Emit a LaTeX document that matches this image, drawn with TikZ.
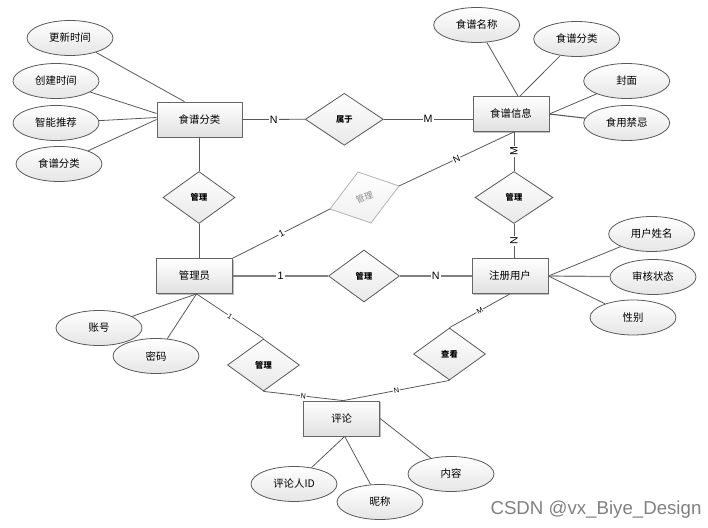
\documentclass[tikz,border=0pt]{standalone}
\usepackage{fontspec}
\newfontfamily\cjk{Noto Sans CJK SC}
\newfontfamily\lab{Liberation Sans}
\usetikzlibrary{shapes.geometric,calc,shadows}
\tikzset{
  ent/.style={rectangle, draw=black!60, line width=0.6pt, top color=white, bottom color=black!12,
    minimum width=57pt, minimum height=26.25pt, inner sep=0pt,
    drop shadow={shadow xshift=0.9pt, shadow yshift=-0.9pt, opacity=0.25, fill=black},
    font=\cjk\fontsize{7.8}{9}\selectfont},
  attr/.style={ellipse, draw=black!65, line width=0.6pt, top color=white, bottom color=black!10,
    minimum width=64.5pt, minimum height=26.25pt, inner sep=0pt,
    font=\cjk\fontsize{7.8}{9}\selectfont},
  rel/.style={diamond, draw=black!65, line width=0.6pt, top color=white, bottom color=black!9,
    minimum width=54pt, minimum height=39pt, inner sep=0pt,
    font=\cjk\fontsize{6.2}{7}\selectfont\bfseries},
  conn/.style={draw=black!65, line width=0.6pt},
  lbl/.style={fill=white, inner sep=0.8pt, font=\lab\fontsize{8}{9}\selectfont},
  lblm/.style={fill=white, inner sep=0.6pt, font=\lab\fontsize{7}{8}\selectfont},
  lbls/.style={fill=white, inner sep=0.5pt, font=\lab\fontsize{5.5}{6}\selectfont},
}
\begin{document}
\begin{tikzpicture}[x=0.75pt,y=-0.75pt]
\useasboundingbox (0,0) rectangle (708,528);

% entities
\node[ent, minimum width=63.75pt] (fl) at (199.5,119.5) {食谱分类};
\node[ent] (xx) at (511,114) {食谱信息};
\node[ent] (gly) at (194.5,276) {管理员};
\node[ent] (yh) at (510,276) {注册用户};
\node[ent] (pl) at (341.7,418.5) {评论};

% attributes
\node[attr] (a1) at (70,38) {更新时间};
\node[attr] (a2) at (56,81) {创建时间};
\node[attr] (a3) at (56,123) {智能推荐};
\node[attr] (a4) at (59,164) {食谱分类};
\node[attr] (b1) at (476.7,25) {食谱名称};
\node[attr] (b2) at (576.7,39) {食谱分类};
\node[attr] (b3) at (626.7,81) {封面};
\node[attr] (b4) at (626.7,123) {食用禁忌};
\node[attr] (c1) at (651.7,234) {用户姓名};
\node[attr] (c2) at (653,277) {审核状态};
\node[attr] (c3) at (633,317.5) {性别};
\node[attr] (d1) at (99,328) {账号};
\node[attr] (d2) at (156,356) {密码};
\node[attr] (e1) at (294,484) {评论人ID};
\node[attr] (e2) at (380,502) {昵称};
\node[attr] (e3) at (451,474) {内容};

% relations
\node[rel, minimum width=58.5pt] (r1) at (344.3,119.3) {属于};
\node[rel] (r2) at (199,197.5) {管理};
\node[rel, minimum width=58.5pt] (r3) at (514,197.5) {管理};
\node[rel, minimum width=53.25pt] (r4) at (364,276) {管理};
\node[rel] (r5) at (263.5,365) {管理};
\node[rel] (r6) at (449.5,354) {查看};

% grey tilted relation
\coordinate (g1) at (330,209);
\coordinate (g2) at (358,172);
\coordinate (g3) at (399,186);
\coordinate (g4) at (371,223);
\draw[draw=black!30, line width=0.6pt, top color=white, bottom color=black!6] (g1) -- (g2) -- (g3) -- (g4) -- cycle;
\node[font=\cjk\fontsize{6.5}{7}\selectfont, text=black!45, rotate=20, inner sep=0pt] (gt) at (364.5,197.5) {管理};

% attribute connectors
\draw[conn] (a1) -- ($(fl.north)+(-15,0)$);
\draw[conn] (a2) -- ($(fl.west)+(0,-6)$);
\draw[conn] (a3) -- ($(fl.west)+(0,-2)$);
\draw[conn] (a4) -- (fl.west);
\draw[conn] (b1) -- ($(xx.north)+(7,0)$);
\draw[conn] (b2) -- ($(xx.north)+(9,0)$);
\draw[conn] (b3) -- (xx.east);
\draw[conn, line width=0.8pt] (b4) -- (xx.east);
\draw[conn] (c1) -- (yh.east);
\draw[conn, line width=0.9pt, draw=black!50] (c2) -- (yh.east);
\draw[conn] (c3) -- (yh.east);
\draw[conn] (d1) -- ($(gly.south)+(2,0)$);
\draw[conn] (d2) -- ($(gly.south)+(2,0)$);
\draw[conn] (e1) -- ($(pl.south)+(3,0)$);
\draw[conn] (e2) -- ($(pl.south)+(3,0)$);
\draw[conn] (e3) -- (pl.east);

% relation connectors
\draw[conn] (fl.east) -- node[lbl]{N} (r1.west);
\draw[conn] (r1.east) -- node[lbl]{M} (xx.west |- r1.east);
\draw[conn] (r2.north |- fl.south) -- (r2.north);
\draw[conn] (r2.south) -- (r2.south |- gly.north);
\draw[conn] (r3.north |- xx.south) -- node[lbl, rotate=90]{M} (r3.north);
\draw[conn] (r3.south) -- node[lbl, rotate=90]{N} (r3.south |- yh.north);
\draw[conn] (gly.north east) -- node[lblm, sloped]{1} (g1);
\draw[conn] (g3) -- node[lblm, sloped]{N} (r3.north |- xx.south);
\draw[conn, line width=0.9pt, draw=black!50] (gly.east) -- node[lbl]{1} (r4.west);
\draw[conn, line width=0.9pt, draw=black!50] (r4.east) -- node[lbl]{N} (yh.west);
\draw[conn] ($(gly.south)+(2,0)$) -- node[lbls, sloped]{1} (r5.north);
\draw[conn] (r5.south) -- node[lbls, sloped]{N} ($(pl.north)+(1.6,0)$);
\draw[conn] (r6.south) -- node[lbls, sloped]{N} ($(pl.north)+(1.6,0)$);
\draw[conn] (r6.north) -- node[lbls, sloped]{M} (yh.south);

% watermark
\node[font=\lab\fontsize{14}{16}\selectfont, text=black!50] (wm) at (596,510) {CSDN @vx\_Biye\_Design};
\end{tikzpicture}
\end{document}
